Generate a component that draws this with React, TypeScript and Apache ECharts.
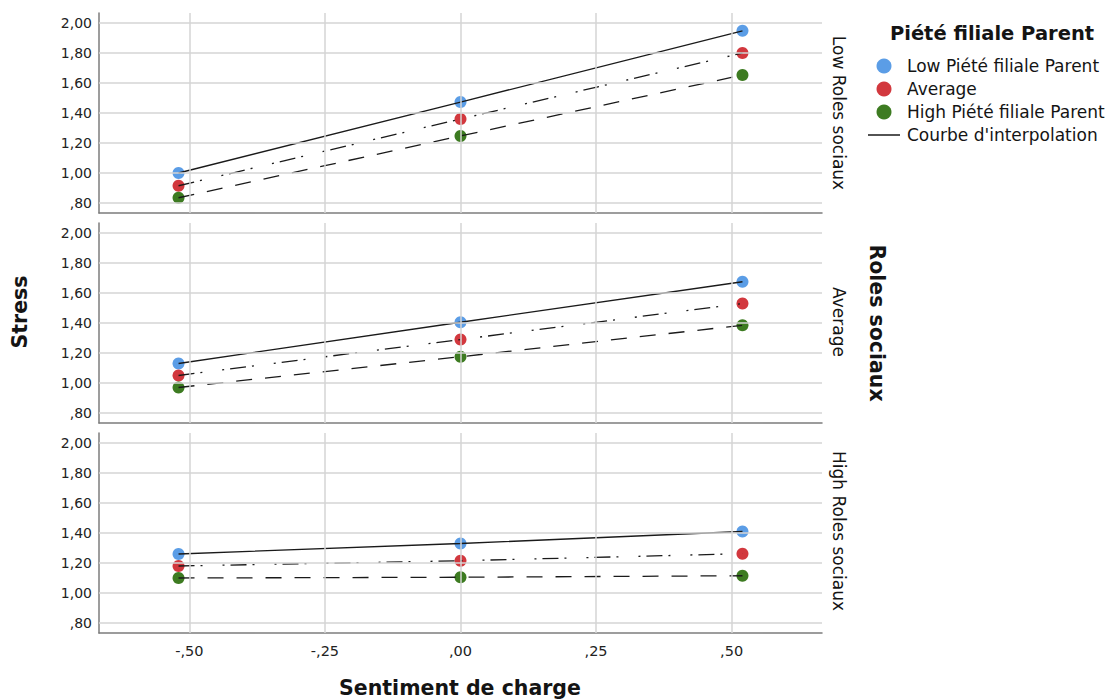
import React, { useEffect, useRef } from "react";
import * as echarts from "echarts";

// ---- Data ----
const xValues = [-0.52, 0, 0.52];
const xTicks = [-0.5, -0.25, 0, 0.25, 0.5];
const yTicks = [0.8, 1.0, 1.2, 1.4, 1.6, 1.8, 2.0];
const panelNames = ["Low Roles sociaux", "Average", "High Roles sociaux"];
const groupNames = ["Low Piété filiale Parent", "Average", "High Piété filiale Parent"];
const fitName = "Courbe d'interpolation";

const lowRolesLowPiete = [1.0, 1.473, 1.948];
const lowRolesAverage = [0.915, 1.36, 1.8];
const lowRolesHighPiete = [0.835, 1.247, 1.653];
const avgRolesLowPiete = [1.13, 1.405, 1.675];
const avgRolesAverage = [1.05, 1.29, 1.53];
const avgRolesHighPiete = [0.97, 1.175, 1.385];
const highRolesLowPiete = [1.26, 1.33, 1.41];
const highRolesAverage = [1.18, 1.215, 1.262];
const highRolesHighPiete = [1.1, 1.105, 1.115];

const panelData = [
  [lowRolesLowPiete, lowRolesAverage, lowRolesHighPiete],
  [avgRolesLowPiete, avgRolesAverage, avgRolesHighPiete],
  [highRolesLowPiete, highRolesAverage, highRolesHighPiete],
];

// ---- Styles ----
const groupColors = ["#5b9de6", "#d2383e", "#3d7b21"];
const dashTypes: any[] = ["solid", [16, 6, 2, 20, 2, 6], [16, 13]];
const FONT = "'DejaVu Sans', 'Noto Sans', sans-serif";
const gridTops = [13, 223, 433];
const GRID_LEFT = 99;
const GRID_WIDTH = 723;
const GRID_HEIGHT = 200;
const Y_MIN = 0.8 - 10 / 150;
const Y_MAX = 2.0 + 10 / 150;
const X_MIN = -2 / 3;
const X_MAX = 2 / 3;

const fmt = (v: number) => {
  const s = Math.abs(v).toFixed(2).replace(".", ",").replace(/^0/, "");
  return (v < -1e-9 ? "-" : "") + s;
};

export default function App() {
  const ref = useRef<HTMLDivElement>(null);

  useEffect(() => {
    if (!ref.current) return;
    const chart = echarts.init(ref.current, undefined, { renderer: "svg" });

    const grid = gridTops.map((t) => ({
      left: GRID_LEFT,
      top: t,
      width: GRID_WIDTH,
      height: GRID_HEIGHT,
      containLabel: false,
    }));

    const xAxis = gridTops.map((_, i) => ({
      type: "value",
      gridIndex: i,
      min: X_MIN,
      max: X_MAX,
      axisLine: { show: true, onZero: false, lineStyle: { color: "#7c7c7c", width: 1.5 } },
      axisTick: { show: false },
      splitLine: { show: false },
      axisLabel: {
        show: i === 2,
        customValues: xTicks,
        formatter: (v: number) => fmt(v),
        color: "#222",
        fontSize: 14.5,
        fontFamily: FONT,
        margin: 10,
      },
    }));

    const yAxis = gridTops.map((_, i) => ({
      type: "value",
      gridIndex: i,
      min: Y_MIN,
      max: Y_MAX,
      axisLine: { show: true, onZero: false, lineStyle: { color: "#7c7c7c", width: 1.5 } },
      axisTick: { show: false },
      splitLine: { show: false },
      axisLabel: {
        show: true,
        customValues: yTicks,
        formatter: (v: number) => fmt(v),
        color: "#222",
        fontSize: 14,
        fontFamily: FONT,
        margin: 7,
      },
    }));

    const series: any[] = [];
    panelData.forEach((groups, p) => {
      // grid lines through the library's scales
      series.push({
        name: "grid" + p,
        type: "line",
        xAxisIndex: p,
        yAxisIndex: p,
        data: [],
        silent: true,
        z: 1,
        markLine: {
          silent: true,
          symbol: ["none", "none"],
          label: { show: false },
          emphasis: { disabled: true },
          lineStyle: { color: "#d4d4d4", width: 1.5, type: "solid" },
          data: [
            ...xTicks.map((v) => ({ xAxis: v })),
            ...yTicks.map((v) => ({ yAxis: v })),
          ],
        },
      });
      groups.forEach((vals, g) => {
        const pts = xValues.map((x, k) => [x, vals[k]]);
        series.push({
          name: groupNames[g],
          type: "scatter",
          xAxisIndex: p,
          yAxisIndex: p,
          data: pts,
          symbol: "circle",
          symbolSize: 12,
          itemStyle: { color: groupColors[g], opacity: 1 },
          z: 3,
        });
        series.push({
          name: fitName,
          type: "line",
          xAxisIndex: p,
          yAxisIndex: p,
          data: pts,
          showSymbol: false,
          symbol: "none",
          lineStyle: { color: "#1a1a1a", width: 1.3, type: dashTypes[g] },
          z: 4,
        });
      });
    });

    const txt = (text: string, x: number, y: number, size: number, bold: boolean, rotation = 0, align = "center") => ({
      type: "text",
      x,
      y,
      rotation,
      silent: true,
      style: {
        text,
        fill: "#141414",
        fontSize: size,
        fontWeight: bold ? "bold" : "normal",
        fontFamily: FONT,
        textAlign: align,
        textVerticalAlign: "middle",
        align,
        verticalAlign: "middle",
      },
    });

    const legendYs = [66, 89, 112];
    const graphic: any[] = [
      txt("Stress", 20, 312, 20.5, true, Math.PI / 2),
      txt("Sentiment de charge", 460, 688, 20.5, true),
      txt("Roles sociaux", 877, 323, 20.5, true, -Math.PI / 2),
      ...panelNames.map((n, i) => txt(n, 839, [113, 322, 531][i], 17, false, -Math.PI / 2)),
      txt("Piété filiale Parent", 992, 33, 19.5, true),
      ...groupNames.map((n, i) => ({
        type: "circle",
        shape: { cx: 884, cy: legendYs[i], r: 7.5 },
        style: { fill: groupColors[i] },
        silent: true,
      })),
      ...groupNames.map((n, i) => txt(n, 907, legendYs[i], 17, false, 0, "left")),
      {
        type: "line",
        shape: { x1: 868, y1: 135, x2: 900, y2: 135 },
        style: { stroke: "#1a1a1a", lineWidth: 1.5 },
        silent: true,
      },
      txt(fitName, 907, 135, 17, false, 0, "left"),
    ];

    chart.setOption({
      animation: false,
      backgroundColor: "#ffffff",
      grid,
      xAxis,
      yAxis,
      series,
      graphic,
    });

    return () => chart.dispose();
  }, []);

  return (
    <div
      ref={ref}
      style={{ position: "absolute", left: 0, top: 0, width: 1117, height: 699 }}
    />
  );
}
